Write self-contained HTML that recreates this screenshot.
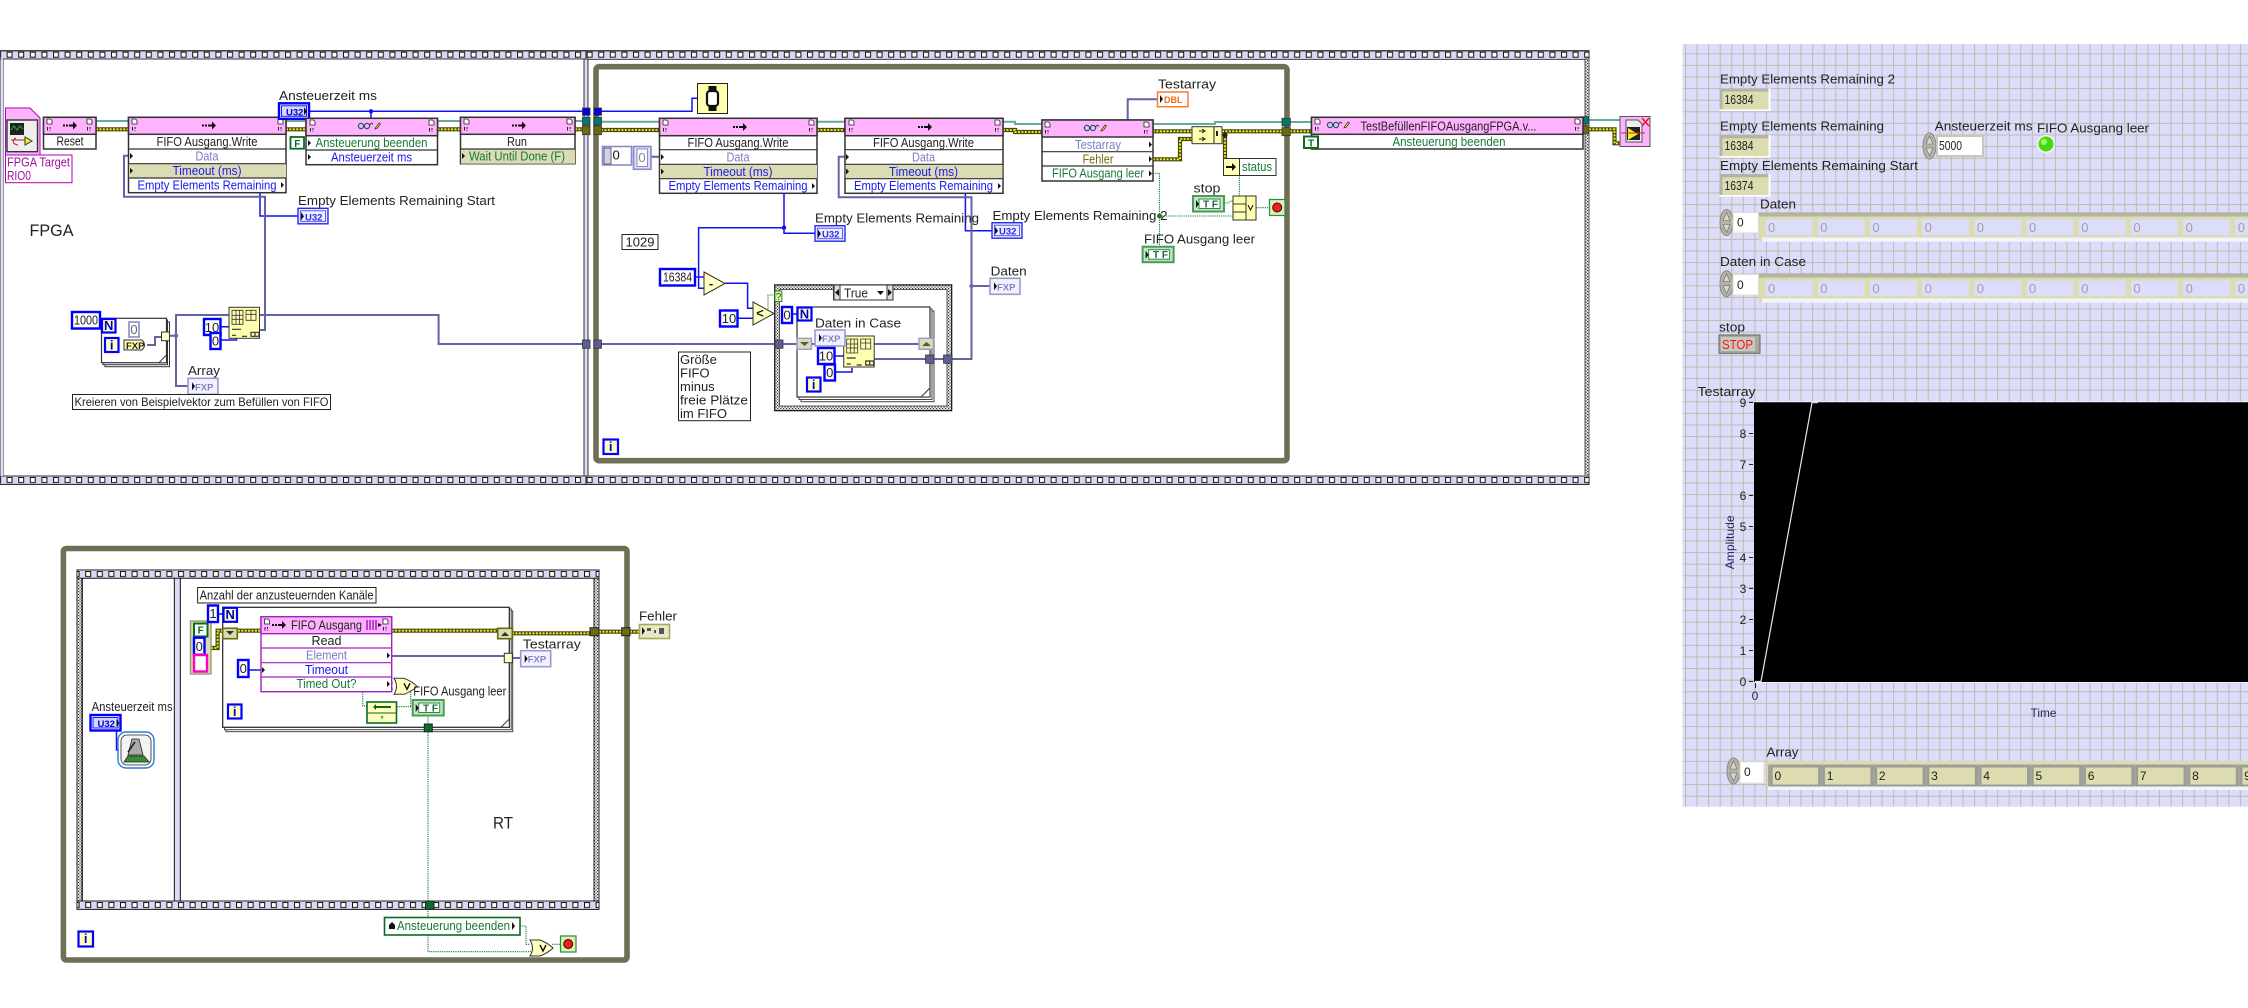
<!DOCTYPE html>
<html><head><meta charset="utf-8"><style>
html,body{margin:0;padding:0;background:#fff}
svg{position:absolute;left:0;top:0;display:block}
text{font-family:"Liberation Sans",sans-serif;font-size:13px;fill:#222}
.c{text-anchor:middle}
.bl{fill:#1a1af0}.pu{fill:#7c7cc0}.gr{fill:#157a35}.ol{fill:#7a6a10}
.k{fill:#fff;stroke:#00f;stroke-width:2.4}
.n{fill:#fff;stroke:#333;stroke-width:1.5}
.h{fill:#ffb3ff;stroke:#333;stroke-width:1.5}
.t{fill:#ffffc0;stroke:#00f;stroke-width:2.2}
.l{stroke:#333;stroke-width:1.2;fill:none}
.ti{fill:#6a6a9c;stroke:#333;stroke-width:.8}
</style></head><body>
<svg width="2248" height="1008" viewBox="0 0 2248 1008" xmlns="http://www.w3.org/2000/svg">
<defs>
<pattern id="b1" x="6.6" y="50.7" width="11.6" height="8.3" patternUnits="userSpaceOnUse"><rect width="11.6" height="8.3" fill="#d8d8f4"/><rect x=".5" y="1.5" width="5" height="5" fill="#fff" stroke="#111"/></pattern>
<pattern id="b2" x="4" y="570" width="11.6" height="8.3" patternUnits="userSpaceOnUse"><rect width="11.6" height="8.3" fill="#d8d8f4"/><rect x=".5" y="1.5" width="5" height="5" fill="#fff" stroke="#111"/></pattern>
<pattern id="b3" x="4" y="901" width="11.6" height="8.3" patternUnits="userSpaceOnUse"><rect width="11.6" height="8.3" fill="#d8d8f4"/><rect x=".5" y="1.5" width="5" height="5" fill="#fff" stroke="#111"/></pattern>
<pattern id="b4" x="6.6" y="476" width="11.6" height="8.3" patternUnits="userSpaceOnUse"><rect width="11.6" height="8.3" fill="#d8d8f4"/><rect x=".5" y="1.5" width="5" height="5" fill="#fff" stroke="#111"/></pattern>
<pattern id="ck" width="3" height="3" patternUnits="userSpaceOnUse"><rect width="3" height="3" fill="#f4f4f4"/><rect width="1.2" height="1.2" fill="#333"/><rect x="1.5" y="1.5" width="1.2" height="1.2" fill="#333"/></pattern>
<pattern id="grid" x="1685" y="41.7" width="11.56" height="11.6" patternUnits="userSpaceOnUse"><rect width="11.56" height="11.6" fill="#dcdcfb"/><path d="M0 .5H11.56M.5 0V11.6" stroke="#bcbcac" stroke-width="1"/></pattern>
<g id="d"><path d="M0 0h3.5l1.500 1.500V5H0z" fill="#fff" stroke="#222" stroke-width=".8"/><path d="M.5 8v3.500M3 8v2M3 11v.8" stroke="#222" stroke-width="1" fill="none"/></g>
<g id="ar"><path d="M0 -1h2v2H0zM3 -1h2v2H3zM6 -1h4v-3l4 4-4 4v-3H6z" fill="#111"/></g>
<g id="gl"><circle cx="3" cy="1" r="2.600" fill="none" stroke="#106060" stroke-width="1.200"/><circle cx="9" cy="1" r="2.600" fill="none" stroke="#106060" stroke-width="1.200"/><path d="M5.500 1h1M11.500 0l2-2 1.500 1.500" stroke="#222" fill="none" stroke-width=".8"/><path d="M17 4l1-2 3-4 1.500 1-3 4z" fill="#ffe040" stroke="#222" stroke-width=".7"/></g>
<path id="m" d="M0 -3L3 0L0 3z" fill="#111"/>
<g id="sub"><rect width="30.500" height="31" fill="#ffffb0" stroke="#333"/><path d="M3 3h11v14H3zM3 8h11M3 12h11M7 3v14M10.500 3v14M17 3h10v10H17zM17 7h10M22 3v10" stroke="#333" fill="none" stroke-width=".8"/><path d="M3 22h9M3 28h4M13 29h5M22 25h8v4h-8zM26 25v4" stroke="#333" fill="none" stroke-width="1.200"/></g>
<g id="fi"><rect width="30" height="15.500" fill="#fff" stroke="#00f" stroke-width="2.400"/><rect x="2.500" y="2.500" width="25" height="10.500" fill="#d6d6ff" stroke="#1a1af0" stroke-width="1"/></g>
<g id="fo"><rect width="30" height="15.500" fill="#e8e8ff" stroke="#2a2af0" stroke-width="1.400"/><rect x="2.500" y="2.500" width="25" height="10.500" fill="#eeeeff" stroke="#3a3af0" stroke-width=".8"/><path d="M3 4v8l3-4z" fill="#111"/></g>
<g id="ff"><rect width="30" height="16" fill="#f2f2ff" stroke="#9a9ad0" stroke-width="1.600"/><path d="M4 4v8l3-4z" fill="#111"/></g>
<g id="fg"><rect width="31" height="15.500" fill="#c4e6c4" stroke="#4a9a5a" stroke-width="2"/><rect x="6" y="3" width="21" height="9.500" fill="#fff" stroke="#2a8a4a"/><path d="M3 4v8l3-4z" fill="#111"/></g>
<g id="tri"><path d="M0 0L21 11.500L0 23z" fill="#ffffc0" stroke="#333"/></g>
<g id="orr"><path d="M0 0H10Q18 3 23 8Q18 13 10 16H0Q5 8 0 0z" fill="#ffffc0" stroke="#333"/><path d="M10 5l3 6 3-6" stroke="#111" fill="none" stroke-width="1.400"/></g>
<g id="stp"><rect width="15.500" height="16" fill="#dcf0b0" stroke="#2a8a4a" stroke-width="1.200"/><circle cx="7.700" cy="8" r="4.500" fill="#e82020" stroke="#400" stroke-width="1"/></g>
<g id="spin"><ellipse cx="6.500" cy="13" rx="6.500" ry="13" fill="#b4b4a6" stroke="#888"/><path d="M3 11l3.500-8 3.500 8zM3 15l3.500 8 3.500-8z" fill="#d8d8d0" stroke="#666" stroke-width=".6"/></g>
<g id="ind"><rect width="51" height="22.700" fill="#fff"/><rect width="49" height="21" fill="#b4b4a6"/><rect x="3" y="3.300" width="46" height="17.700" fill="#dcdcb0"/></g>
<g id="el0"><rect width="51" height="21" fill="#dcdcb0"/><rect x="3.500" y="3" width="47" height="15.500" fill="#dcdcfb"/></g>
<g id="el1"><rect width="50" height="21" fill="#9c9c96"/><rect x="2" y="2" width="45.500" height="17" fill="#dcdcb0"/></g>
</defs>

<!-- STRUCTURES -->
<rect x="0" y="50.700" width="1589" height="433.600" fill="#fff" stroke="#222" stroke-width="1"/>
<rect x="0" y="51" width="586" height="8.300" fill="url(#b1)" stroke="#111" stroke-width=".8"/>
<rect x="0" y="476" width="586" height="8.300" fill="url(#b4)" stroke="#111" stroke-width=".8"/>
<rect x="586" y="51" width="1003" height="8.300" fill="url(#b1)" stroke="#111" stroke-width=".8"/>
<rect x="586" y="476" width="1003" height="8.300" fill="url(#b4)" stroke="#111" stroke-width=".8"/>
<rect x="3" y="59" width="581" height="417" fill="#fff" stroke="#333"/>
<rect x="584" y="59" width="4" height="417" fill="#dcdcf8" stroke="#333"/>
<rect x="1585" y="59" width="4" height="417" fill="url(#ck)" stroke="#555"/>
<rect x="1" y="59" width="2" height="417" fill="#dcdcf8"/>
<rect x="596" y="66.700" width="691" height="394" fill="#fff" stroke="#6f6f56" stroke-width="5.600" rx="3"/>
<!-- for loop 1 -->
<rect x="105" y="322" width="64.500" height="44.700" fill="#fff" stroke="#333"/><rect x="103" y="320" width="64.500" height="44.700" fill="#fff" stroke="#333"/>
<rect x="101.500" y="318.300" width="65" height="44.400" fill="#fff" stroke="#333" stroke-width="1.200"/><path d="M159 362.700L166.500 355V362.700z" fill="#fff" stroke="#333"/>
<!-- case -->
<rect x="774.700" y="284.900" width="177" height="125.800" fill="url(#ck)" stroke="#111" stroke-width="1.200"/>
<rect x="779.500" y="289.500" width="167.500" height="116.500" fill="#fff" stroke="#333" stroke-width=".8"/>
<rect x="801" y="311" width="133" height="90.700" fill="#fff" stroke="#444"/><rect x="799" y="309" width="133" height="90.500" fill="#fff" stroke="#444"/>
<rect x="797" y="307" width="133" height="90" fill="#fff" stroke="#333" stroke-width="1.200"/><path d="M921 397L930 388V397z" fill="#fff" stroke="#333"/>
<!-- RT structures -->
<rect x="63.400" y="548.500" width="563.600" height="411.500" fill="#fff" stroke="#6f6f56" stroke-width="5.600" rx="3"/>
<rect x="77" y="570" width="522" height="339.300" fill="#fff" stroke="#222" stroke-width="1"/>
<rect x="77" y="570" width="522" height="8.300" fill="url(#b2)" stroke="#111" stroke-width=".8"/>
<rect x="77" y="901" width="522" height="8.300" fill="url(#b3)" stroke="#111" stroke-width=".8"/>
<rect x="77" y="578.300" width="5" height="322.700" fill="url(#ck)" stroke="#222"/>
<rect x="82.400" y="578.300" width="92" height="322.700" fill="#fff" stroke="#222"/>
<rect x="174.400" y="578.300" width="6" height="322.700" fill="#dcdcf8" stroke="#222"/>
<rect x="180.400" y="578.300" width="413.600" height="322.700" fill="#fff" stroke="#222"/>
<rect x="594" y="578.300" width="5" height="322.700" fill="url(#ck)" stroke="#222"/>
<rect x="226" y="611" width="286.700" height="120.700" fill="#fff" stroke="#444"/><rect x="224.500" y="609" width="286.700" height="120.700" fill="#fff" stroke="#444"/>
<rect x="222.700" y="607.300" width="286.600" height="120" fill="#fff" stroke="#222" stroke-width="1.200"/><path d="M501 727.300L509.300 719V727.300z" fill="#fff" stroke="#333"/>

<!-- WIRES -->
<g fill="none" stroke="#66aa9a" stroke-width="2"><path d="M96 121H128.500M286 121H306M437.500 121H460M575 121H582M601 121.700H659M817 121.700H845M1003 121.700H1015V124H1042M1153 124H1215V122H1282M1290 122H1311M1589 120H1620"/></g>
<defs><path id="ew" d="M96 129.300H128.500M286 129.300H306M437.500 129.300H460M575 129.300H582M601 130H659M817 130H845M1003 130H1015V132H1042M1153 131.300H1192M1153 159.300H1180V139H1192M1222 131.300H1282M1290 131.300H1311M1225 135V158M1589 129.300H1614.500V143.300H1619.500M211 648H217.600V630.700H261M391.700 630.700H498M512 633.300H590M599 631.700H622M630 631.700H639"/></defs>
<use href="#ew" fill="none" stroke="#4a4a08" stroke-width="4.200"/>
<use href="#ew" fill="none" stroke="#f4f430" stroke-width="1.800" stroke-dasharray="2 1.400"/>
<g fill="none" stroke="#1212f0" stroke-width="1.500"><path d="M308 111.300H582M371 111.300V118M601 111.300H692V98.300H697M260 192.700V216H298M784 193.300V233.300H815M784 227.700H698.600V288.300H704M695 277H704M725 283.300H747.600V308.300H753.400M737.700 318.300H753M965.400 193.300V230.700H992M221 326.700H229M221 340H236.500V338M791.600 314H796.600M834.500 356H844M835 372H852V368M249 670H261M217 614H223M116.500 730V750H118M100 322H101"/></g>
<g fill="none" stroke="#6464a4" stroke-width="2"><path d="M128.500 155.700H124V196.700H265V330H259.500M147 345H155V337H161.500M169.500 335.700H176M229.600 315H176V386H187.500M259.500 315H438.600V344H582.500M601 344H774M783 344H797M811.500 344H843.700M874 344H919M874 359H925.600M934 359H943.600M952 359H971.500V197.300H838.700V156.700H845M971.500 286H990M651 156.700H659M1127.700 120V99.300H1157M391.700 656H504.300M512 658H520.700"/></g>
<g fill="none" stroke="#1a7a2a" stroke-width="1.100" stroke-dasharray="1.200 1"><path d="M1153 173.300H1159.500V246.700M1159.500 216H1233M1239.400 175.300V195.700M1223 203H1228L1231 201H1233M1256 207.700H1269M772.500 313.300H768V295H774.400M391.700 683H394M391.700 689H394M416 686H410.700V706.700M396.700 706.700H412.700M362.700 691.700V706H366.700M428 715V951.700H531M520 926H526V944.300H530M552 944.300H560.600"/></g>
<circle cx="371" cy="111.300" r="2.200" fill="#1212f0"/><circle cx="784" cy="227.700" r="2.200" fill="#1212f0"/><circle cx="176" cy="335.700" r="2.200" fill="#6a6aa8"/><circle cx="971.500" cy="286" r="2.200" fill="#6a6aa8"/><circle cx="1159.500" cy="216" r="2.500" fill="#1a7a2a"/><circle cx="1225" cy="135" r="2.500" fill="#222"/>

<!-- TUNNELS -->
<g stroke="#333" stroke-width=".8">
<rect x="582.500" y="108" width="7.500" height="7.300" fill="#0000e0"/><rect x="594" y="108" width="7.500" height="7.300" fill="#0000e0"/>
<rect x="582.500" y="117.300" width="7.500" height="7.700" fill="#08786a"/><rect x="594" y="117.300" width="7.500" height="7.700" fill="#08786a"/>
<rect x="582.500" y="126" width="7.500" height="8.700" fill="#6a6a10"/><rect x="594" y="126" width="7.500" height="8.700" fill="#6a6a10"/>
<rect x="582.500" y="340" width="7.500" height="8.300" fill="#5e5e94"/><rect x="594" y="340" width="7.500" height="8.300" fill="#5e5e94"/>
<rect x="1282" y="118.300" width="8.300" height="7.700" fill="#08786a"/><rect x="1282" y="127.700" width="8.300" height="8" fill="#6a6a10"/>
<rect x="1581" y="116.700" width="8" height="7.300" fill="#08786a"/><rect x="1581" y="125.700" width="8" height="8.300" fill="#6a6a10"/>
<rect x="775" y="340" width="8" height="8.300" fill="#5e5e94"/>
<rect x="925.600" y="355" width="8.400" height="8.300" fill="#5e5e94"/><rect x="943.600" y="355" width="8.400" height="8.300" fill="#5e5e94"/>
</g>

<!-- FPGA ref -->
<path d="M5.500 108H30L40 118V155H5.500z" fill="#ffb3ff" stroke="#b000b0"/>
<rect x="7" y="120" width="30.500" height="31.700" fill="#eee" stroke="#333" stroke-width="1.400"/>
<rect x="10" y="123" width="14" height="12" fill="#222"/><path d="M11 130l3-4 3 4 3-4 3 3" stroke="#20c020" fill="none"/><path d="M25 137l7 4-7 4z" fill="#f0f020" stroke="#333"/><path d="M11 140h14M16 138c-4 2-4 6 2 7" stroke="#c02020" fill="none"/>
<rect x="5.500" y="155" width="66.500" height="27.700" fill="#fff" stroke="#b000b0"/>
<text x="7" y="166.500" style="fill:#a010a0" textLength="63" lengthAdjust="spacingAndGlyphs">FPGA Target</text><text x="7" y="180" style="fill:#a010a0" textLength="24" lengthAdjust="spacingAndGlyphs">RIO0</text>

<!-- Reset -->
<rect class="n" x="43.500" y="117.300" width="52.500" height="31.700"/><rect class="h" x="43.500" y="117.300" width="52.500" height="17"/>
<use href="#d" x="47" y="119"/><use href="#d" x="87" y="119"/><use href="#ar" x="63" y="125.500"/>
<text class="c" x="70" y="145.500" textLength="27" lengthAdjust="spacingAndGlyphs">Reset</text>

<!-- FIFO 1 -->
<rect class="n" x="128.500" y="117.300" width="157.500" height="75.400"/><rect x="129" y="163.700" width="157" height="14.300" fill="#dcdcb4"/>
<rect class="h" x="128.500" y="117.300" width="157.500" height="17"/><path class="l" d="M128.500 149H286M128.500 163.700H286M128.500 178H286"/>
<use href="#d" x="132" y="119"/><use href="#d" x="278" y="119"/><use href="#ar" x="202" y="125.500"/>
<text class="c" x="207" y="146" textLength="101" lengthAdjust="spacingAndGlyphs">FIFO Ausgang.Write</text><text class="c pu" x="207" y="160.500" textLength="23" lengthAdjust="spacingAndGlyphs">Data</text><text class="c bl" x="207" y="175" textLength="69" lengthAdjust="spacingAndGlyphs">Timeout (ms)</text><text class="c bl" x="207" y="189.500" textLength="139" lengthAdjust="spacingAndGlyphs">Empty Elements Remaining</text>
<use href="#m" x="130" y="156"/><use href="#m" x="130" y="170.700"/><use href="#m" x="281" y="185"/>

<!-- U32 top -->
<text x="279" y="100" textLength="98" lengthAdjust="spacingAndGlyphs">Ansteuerzeit ms</text>
<g transform="translate(279 103.300)"><use href="#fi"/><text x="7" y="12" style="font-size:9.500px;font-weight:bold;fill:#00c">U32</text><path d="M25 4v8l3-4z" fill="#111"/></g>

<!-- Node 2 -->
<rect class="n" x="306" y="118.300" width="131.500" height="46.400"/><rect class="h" x="306" y="118.300" width="131.500" height="17.400"/><path class="l" d="M306 150H437.500"/>
<use href="#d" x="310" y="120"/><use href="#d" x="429" y="120"/><use href="#gl" x="358" y="125"/>
<text class="c gr" x="371.500" y="147" textLength="112" lengthAdjust="spacingAndGlyphs">Ansteuerung beenden</text><text class="c bl" x="371.500" y="161.500" textLength="81" lengthAdjust="spacingAndGlyphs">Ansteuerzeit ms</text>
<use href="#m" x="308" y="143"/><use href="#m" x="308" y="157"/>
<rect x="290.500" y="137" width="13.500" height="11.700" fill="#fff" stroke="#0a6a20" stroke-width="1.800"/><text class="c" x="297.300" y="147" style="font-size:10px;font-weight:bold;fill:#0a6a20">F</text>

<!-- Run -->
<rect class="n" x="460.500" y="117.300" width="114.500" height="46.400"/><rect x="461" y="149" width="114" height="14.700" fill="#dcdcb4"/><rect class="h" x="460.500" y="117.300" width="114.500" height="17"/><path class="l" d="M460.500 149H575"/>
<use href="#d" x="464" y="119"/><use href="#d" x="567" y="119"/><use href="#ar" x="512" y="125.500"/>
<text class="c" x="517" y="146" textLength="20" lengthAdjust="spacingAndGlyphs">Run</text><text class="c gr" x="517" y="160.500" textLength="96" lengthAdjust="spacingAndGlyphs">Wait Until Done (F)</text><use href="#m" x="462" y="156"/>

<!-- Empty start indicator -->
<text x="298" y="205" textLength="197" lengthAdjust="spacingAndGlyphs">Empty Elements Remaining Start</text>
<g transform="translate(298 208.300)"><use href="#fo"/><text x="7" y="12" style="font-size:9.500px;font-weight:bold;fill:#2a2af0">U32</text></g>
<text x="29.500" y="236" style="font-size:17px" textLength="44" lengthAdjust="spacingAndGlyphs">FPGA</text>

<!-- for loop 1 contents -->
<rect class="k" x="72" y="312" width="28" height="16.500"/><text class="c" x="86" y="324.500" style="font-size:12.500px" textLength="24" lengthAdjust="spacingAndGlyphs">1000</text>
<rect class="t" x="102" y="319" width="13.500" height="13.500"/><text class="c" x="108.700" y="330" style="font-weight:bold;fill:#00c">N</text>
<rect x="129" y="322" width="10" height="15" fill="#fff" stroke="#8a8ac8" stroke-width="1.600"/><text class="c" x="134" y="334" style="fill:#666">0</text>
<rect class="t" x="105" y="338" width="13.500" height="14"/><text class="c" x="111.700" y="349.500" style="font-weight:bold;fill:#00c">i</text>
<path d="M124 340H142Q147 345 142 350H124z" fill="#ffffb0" stroke="#333"/><text x="126" y="349" style="font-size:9.500px;font-weight:bold">FXP</text>
<rect x="161.500" y="332" width="8" height="8.700" fill="#ffffc8" stroke="#333"/>

<use href="#sub" x="229" y="307.300"/>
<rect class="k" x="204" y="319" width="16.500" height="16"/><text class="c" x="212" y="332">10</text>
<rect class="k" x="210.500" y="333" width="10" height="16"/><text class="c" x="215.500" y="345.500">0</text>
<text x="188" y="375" textLength="32" lengthAdjust="spacingAndGlyphs">Array</text>
<g transform="translate(188 378.300)"><use href="#ff"/><text x="7" y="12" style="font-size:9.500px;fill:#8484c0;font-weight:bold">FXP</text></g>
<rect x="72.500" y="394.500" width="258" height="15" fill="#fff" stroke="#222"/><text x="74.500" y="406" style="font-size:12px" textLength="254" lengthAdjust="spacingAndGlyphs">Kreieren von Beispielvektor zum Befüllen von FIFO</text>

<!-- Timer -->
<rect x="697.500" y="83.500" width="30" height="30" fill="#ffffb0" stroke="#222"/><rect x="707" y="91" width="11" height="15" rx="3" fill="#fff" stroke="#111" stroke-width="2.200"/><rect x="708.500" y="86" width="8" height="5" fill="#111"/><rect x="708.500" y="106" width="8" height="5" fill="#111"/>

<!-- const cluster -->
<rect x="602.500" y="146.500" width="29" height="18.500" fill="#fff" stroke="#8a8ac8" stroke-width="1.600"/><rect x="604" y="148" width="7" height="16" fill="#d0d0f0" stroke="#666"/><text x="612.500" y="159.500" style="fill:#111">0</text>
<rect x="633.500" y="146.500" width="17.500" height="22.800" fill="#dcdcf8" stroke="#8a8ac8" stroke-width="1.600"/><rect x="637" y="149" width="10.500" height="17.500" fill="#fff" stroke="#8a8ac8"/><text class="c" x="642" y="162" style="fill:#888">0</text>

<!-- FIFO 2 -->
<rect class="n" x="659.500" y="118.300" width="157.500" height="75"/><rect x="660" y="164.300" width="157" height="14.400" fill="#dcdcb4"/><rect class="h" x="659.500" y="118.300" width="157.500" height="17.400"/><path class="l" d="M659.500 149.700H817M659.500 164.300H817M659.500 178.700H817"/>
<use href="#d" x="663" y="120"/><use href="#d" x="809" y="120"/><use href="#ar" x="733" y="127"/>
<text class="c" x="738" y="147" textLength="101" lengthAdjust="spacingAndGlyphs">FIFO Ausgang.Write</text><text class="c pu" x="738" y="161.500" textLength="23" lengthAdjust="spacingAndGlyphs">Data</text><text class="c bl" x="738" y="176" textLength="69" lengthAdjust="spacingAndGlyphs">Timeout (ms)</text><text class="c bl" x="738" y="190" textLength="139" lengthAdjust="spacingAndGlyphs">Empty Elements Remaining</text>
<use href="#m" x="661" y="157"/><use href="#m" x="661" y="171.500"/><use href="#m" x="812" y="186"/>

<!-- FIFO 3 -->
<rect class="n" x="845" y="118.300" width="158" height="75"/><rect x="845.500" y="164.300" width="157" height="14.400" fill="#dcdcb4"/><rect class="h" x="845" y="118.300" width="158" height="17.400"/><path class="l" d="M845 149.700H1003M845 164.300H1003M845 178.700H1003"/>
<use href="#d" x="849" y="120"/><use href="#d" x="995" y="120"/><use href="#ar" x="918" y="127"/>
<text class="c" x="923.500" y="147" textLength="101" lengthAdjust="spacingAndGlyphs">FIFO Ausgang.Write</text><text class="c pu" x="923.500" y="161.500" textLength="23" lengthAdjust="spacingAndGlyphs">Data</text><text class="c bl" x="923.500" y="176" textLength="69" lengthAdjust="spacingAndGlyphs">Timeout (ms)</text><text class="c bl" x="923.500" y="190" textLength="139" lengthAdjust="spacingAndGlyphs">Empty Elements Remaining</text>
<use href="#m" x="846" y="157"/><use href="#m" x="846" y="171.500"/><use href="#m" x="998" y="186"/>

<!-- Read node -->
<rect class="n" x="1042" y="120" width="111" height="61"/><rect class="h" x="1042" y="120" width="111" height="17"/><path class="l" d="M1042 151.700H1153M1042 166H1153"/>
<use href="#d" x="1045" y="122"/><use href="#d" x="1144" y="122"/><use href="#gl" x="1084" y="127"/>
<text class="c pu" x="1098" y="149" textLength="46" lengthAdjust="spacingAndGlyphs">Testarray</text><text class="c ol" x="1098" y="163.500" textLength="31" lengthAdjust="spacingAndGlyphs">Fehler</text><text class="c gr" x="1098" y="177.500" textLength="92" lengthAdjust="spacingAndGlyphs">FIFO Ausgang leer</text>
<use href="#m" x="1149" y="144.500"/><use href="#m" x="1149" y="159"/><use href="#m" x="1149" y="173.500"/>

<!-- Labels middle -->
<rect x="622" y="234.500" width="36" height="15" fill="#fff" stroke="#222"/><text class="c" x="640" y="246.500" textLength="29" lengthAdjust="spacingAndGlyphs">1029</text>
<rect class="k" x="660" y="269" width="35" height="16.500"/><text class="c" x="677.500" y="281.500" textLength="29" lengthAdjust="spacingAndGlyphs">16384</text>
<use href="#tri" x="704" y="272"/><text class="c" x="711" y="288" style="font-weight:bold">-</text><path d="M704 277l-1-3h2z" fill="#f00"/>
<use href="#tri" x="753" y="302"/><text class="c" x="760" y="317.500" style="font-weight:bold">&lt;</text>
<rect class="k" x="720" y="310.500" width="17.500" height="16"/><text class="c" x="729" y="323">10</text>

<text x="815" y="222.700" textLength="164" lengthAdjust="spacingAndGlyphs">Empty Elements Remaining</text>
<g transform="translate(815 225.700)"><use href="#fo"/><text x="7" y="12" style="font-size:9.500px;font-weight:bold;fill:#2a2af0">U32</text></g>
<text x="992.500" y="220" textLength="175" lengthAdjust="spacingAndGlyphs">Empty Elements Remaining 2</text>
<g transform="translate(992 222.700)"><use href="#fo"/><text x="7" y="12" style="font-size:9.500px;font-weight:bold;fill:#2a2af0">U32</text></g>
<text x="990.600" y="275.300" textLength="36" lengthAdjust="spacingAndGlyphs">Daten</text>
<g transform="translate(990 278.300)"><use href="#ff"/><text x="7" y="12" style="font-size:9.500px;fill:#8484c0;font-weight:bold">FXP</text></g>

<rect x="678.500" y="352" width="72" height="68.700" fill="#fff" stroke="#222"/>
<g><text x="680" y="364">Größe</text><text x="680" y="377.500">FIFO</text><text x="680" y="391">minus</text><text x="680" y="404.500" textLength="68" lengthAdjust="spacingAndGlyphs">freie Plätze</text><text x="680" y="418">im FIFO</text></g>

<!-- Case contents -->
<rect x="833.500" y="285" width="59.500" height="15" fill="#fff" stroke="#333"/><path d="M834 285h6v15h-6zM887 285h6v15h-6z" fill="#ddd" stroke="#333"/><path d="M839 289v7l-4-3.500zM888 289v7l4-3.500z" fill="#111"/>
<text x="844" y="297.500" textLength="24" lengthAdjust="spacingAndGlyphs">True</text><path d="M877 291h7l-3.500 4z" fill="#111"/>
<rect x="774.900" y="291" width="7" height="10.500" fill="#dff0a8" stroke="#2a8a2a"/><text class="c" x="778.500" y="300" style="font-size:10px;fill:#2a6a2a">?</text>
<rect class="k" x="782" y="307" width="10" height="16"/><text class="c" x="787" y="319.500">0</text>
<rect class="t" x="797.500" y="307.500" width="14" height="13"/><text class="c" x="804.500" y="318.500" style="font-weight:bold;fill:#00c">N</text>
<text x="815" y="327.300" textLength="86" lengthAdjust="spacingAndGlyphs">Daten in Case</text>
<rect x="797" y="338.300" width="14.500" height="11" fill="#dcdcb0" stroke="#9a9ad0" stroke-width="1.400"/><path d="M800 342h9l-4.500 4z" fill="#555"/>
<rect x="919" y="338.300" width="14.500" height="11" fill="#dcdcb0" stroke="#9a9ad0" stroke-width="1.400"/><path d="M922 346h9l-4.500-4z" fill="#555"/>
<use href="#sub" x="843.700" y="336"/>
<g transform="translate(815 330)"><use href="#ff"/><text x="7" y="12" style="font-size:9.500px;fill:#8484c0;font-weight:bold">FXP</text></g>
<rect class="k" x="818" y="348" width="16.500" height="16"/><text class="c" x="826" y="360.500">10</text>
<rect class="k" x="824.500" y="364.500" width="10.500" height="16"/><text class="c" x="829.700" y="377">0</text>
<rect class="t" x="807" y="377.500" width="13.500" height="14"/><text class="c" x="813.700" y="389" style="font-weight:bold;fill:#00c">i</text>
<rect class="t" x="603.500" y="439.500" width="14.500" height="14.500"/><text class="c" x="610.700" y="451" style="font-weight:bold;fill:#00c">i</text>

<!-- Testarray -->
<text x="1158" y="88.700" textLength="58" lengthAdjust="spacingAndGlyphs">Testarray</text>
<rect x="1157.500" y="92" width="30.500" height="14.700" fill="#fff" stroke="#ff7a20" stroke-width="1.500"/><path d="M1160 95v8l3-4z" fill="#111"/><text x="1164" y="103" style="font-size:9px;font-weight:bold;fill:#f06a10">DBL</text>

<!-- Merge -->
<rect x="1192" y="126.700" width="30" height="17" fill="#ffffb0" stroke="#333"/><path d="M1214 127v16M1199 131h6M1202 129l3 2-3 2M1199 139h6M1202 137l3 2-3 2" stroke="#222" fill="none"/><path d="M1217 131v5" stroke="#222" stroke-width="2"/>
<rect x="1223.500" y="158.500" width="52.500" height="17" fill="#fff" stroke="#333"/><rect x="1223.500" y="158.500" width="16" height="17" fill="#ffffb0" stroke="#333"/><path d="M1226 166h6v-3l4 4-4 4v-3h-6z" fill="#111"/><text x="1242" y="171" class="gr" textLength="30" lengthAdjust="spacingAndGlyphs">status</text>
<text x="1193.500" y="192.700" textLength="27" lengthAdjust="spacingAndGlyphs">stop</text>
<use href="#fg" x="1193" y="196"/><text x="1203" y="207.500" style="font-size:10px;font-weight:bold;fill:#1a6a3a">T F</text>
<rect x="1233" y="196" width="23" height="24" fill="#ffffb0" stroke="#333"/><path d="M1233 204h13M1233 212h13M1246 196v24" stroke="#333"/><path d="M1248 205l2.500 5 2.500-5" stroke="#111" fill="none"/>
<use href="#stp" x="1269.500" y="199.500"/>
<text x="1144" y="243.300" textLength="111" lengthAdjust="spacingAndGlyphs">FIFO Ausgang leer</text>
<use href="#fg" x="1142.600" y="246.700"/><text x="1153" y="258" style="font-size:10px;font-weight:bold;fill:#1a6a3a">T F</text>

<!-- Final node -->
<rect class="n" x="1311.500" y="117.300" width="271.500" height="31.700"/><rect class="h" x="1311.500" y="117.300" width="271.500" height="17"/>
<use href="#d" x="1315" y="119"/><use href="#d" x="1575" y="119"/><use href="#gl" x="1327" y="124"/>
<text x="1360.500" y="130.500" textLength="176" lengthAdjust="spacingAndGlyphs">TestBefüllenFIFOAusgangFPGA.v...</text>
<text class="c gr" x="1449" y="146" textLength="113" lengthAdjust="spacingAndGlyphs">Ansteuerung beenden</text>
<rect x="1304" y="136.500" width="14" height="11.500" fill="#fff" stroke="#0a6a20" stroke-width="2"/><text class="c" x="1311" y="146.500" style="font-size:10px;font-weight:bold;fill:#0a6a20">T</text>

<!-- Close -->
<rect x="1620" y="116.500" width="30" height="30" fill="#ffb3ff" stroke="#555"/><path d="M1626 120h12l4 4v18h-16z" fill="#eee" stroke="#555"/><rect x="1627" y="127" width="13" height="13" fill="#222"/><path d="M1628 128l10 6-10 6z" fill="#f0f020"/><path d="M1621 133h24" stroke="#e02020"/><path d="M1642 118l7 8m0-8l-7 8" stroke="#e02020" stroke-width="1.500"/>

<!-- RT contents -->
<text x="91.600" y="711" textLength="81" lengthAdjust="spacingAndGlyphs">Ansteuerzeit ms</text>
<g transform="translate(90.500 715)"><use href="#fi"/><text x="7" y="12" style="font-size:9.500px;font-weight:bold;fill:#00c">U32</text><path d="M26 4v8l3-4z" fill="#111"/></g>
<rect x="118" y="732" width="36" height="36" rx="8" fill="#fff" stroke="#2a7ad8" stroke-width="1.400"/><rect x="121" y="735" width="30" height="30" rx="6" fill="#f4f4f4" stroke="#222" stroke-width=".8"/><path d="M132 739h7l4 16h-15z" fill="#aaa" stroke="#222" stroke-width=".8"/><path d="M124 762l4-6h16l5 6z" fill="#3a8a3a" stroke="#222" stroke-width=".8"/><path d="M135 742l-7 10" stroke="#111" stroke-width="1.500"/>

<rect x="197.600" y="587.500" width="178.400" height="15.500" fill="#fff" stroke="#222"/><text x="199.600" y="599.500" textLength="174" lengthAdjust="spacingAndGlyphs">Anzahl der anzusteuernden Kanäle</text>

<rect x="190.500" y="621" width="20.500" height="53" fill="#dcdcb0" stroke="#9a9a70" stroke-width="1.400"/>
<rect x="194" y="623.500" width="13.500" height="13" fill="#fff" stroke="#0a6a20" stroke-width="2"/><text class="c" x="200.700" y="633.500" style="font-size:10px;font-weight:bold;fill:#0a6a20">F</text>
<rect class="k" x="194" y="637.700" width="10.500" height="17"/><text class="c" x="199.200" y="651">0</text>
<rect x="194" y="655" width="13" height="16.500" fill="#fff" stroke="#ff00c0" stroke-width="2.400"/>
<rect x="208" y="605.500" width="10" height="16.500" class="k"/><text class="c" x="213" y="618">1</text>
<rect class="t" x="223.500" y="607.800" width="13.500" height="14"/><text class="c" x="230.200" y="619" style="font-weight:bold;fill:#00c">N</text>
<rect x="222.700" y="628.300" width="14.600" height="10.400" fill="#dcdcb0" stroke="#6a6a10" stroke-width="1.600"/><path d="M226 631h8l-4 4z" fill="#333"/>
<rect x="497.700" y="628.300" width="14.600" height="10.400" fill="#dcdcb0" stroke="#6a6a10" stroke-width="1.600"/><path d="M501 636h8l-4-4z" fill="#333"/>

<rect x="261" y="616.700" width="130.700" height="75" fill="#fff" stroke="#a020c0" stroke-width="1.400"/><rect x="261" y="616.700" width="130.700" height="17" fill="#ffb3ff" stroke="#a020c0" stroke-width="1.400"/><path d="M261 648H391.700M261 662.700H391.700M261 677H391.700" stroke="#a020c0" stroke-width="1.200" fill="none"/>
<use href="#d" x="264.500" y="619"/><use href="#d" x="383" y="619"/><use href="#ar" x="272" y="625"/>
<text x="291" y="629.500" textLength="71" lengthAdjust="spacingAndGlyphs">FIFO Ausgang</text><path d="M367 620v10M370 620v10M373 620v10M376 620v10" stroke="#a020c0" stroke-width="1.500"/><path d="M378 623l4 2-4 2z" fill="#111"/>
<text class="c" x="326.500" y="645" textLength="30" lengthAdjust="spacingAndGlyphs">Read</text><text class="c pu" x="326.500" y="659.500" textLength="41" lengthAdjust="spacingAndGlyphs">Element</text><text class="c bl" x="326.500" y="674" textLength="43" lengthAdjust="spacingAndGlyphs">Timeout</text><text class="c gr" x="326.500" y="688" textLength="60" lengthAdjust="spacingAndGlyphs">Timed Out?</text>
<use href="#m" x="387" y="655.500"/><use href="#m" x="262" y="670"/><use href="#m" x="387" y="684"/>
<rect class="k" x="238" y="660" width="10.500" height="17"/><text class="c" x="243.300" y="673">0</text>
<use href="#orr" x="394" y="678.300"/>
<text x="413.300" y="695.300" textLength="93" lengthAdjust="spacingAndGlyphs">FIFO Ausgang leer</text>
<rect x="367" y="702" width="29.500" height="21" fill="#ffffc0" stroke="#0a6a20" stroke-width="1.600"/><path d="M367 713H396.500" stroke="#0a6a20"/><path d="M372 706h4v-2l-3 3 3 3v-2h15v-2z" fill="#0a6a20"/><text class="c" x="382" y="722" style="font-size:9px;fill:#0a6a20">*</text>
<use href="#fg" x="412.700" y="700"/><text x="423" y="711.500" style="font-size:10px;font-weight:bold;fill:#1a6a3a">T F</text>
<rect x="424.300" y="724" width="8" height="7.700" fill="#0a6a30" stroke="#222"/>
<rect class="t" x="228" y="704.500" width="13.500" height="14"/><text class="c" x="234.700" y="716" style="font-weight:bold;fill:#00c">i</text>
<rect x="504.300" y="653.300" width="8" height="9.400" fill="#ffffc8" stroke="#333"/>
<text x="522.800" y="648.300" textLength="58" lengthAdjust="spacingAndGlyphs">Testarray</text>
<g transform="translate(520.700 650.700)"><use href="#ff"/><text x="7" y="12" style="font-size:9.500px;fill:#8484c0;font-weight:bold">FXP</text></g>
<rect x="590" y="627.700" width="9" height="8" fill="#6a6a10" stroke="#222"/><rect x="621.700" y="627.700" width="8.300" height="8" fill="#6a6a10" stroke="#222"/>
<text x="639" y="620.700" textLength="38" lengthAdjust="spacingAndGlyphs">Fehler</text>
<rect x="639.500" y="624.500" width="30" height="14" fill="#e8e8c8" stroke="#a8a858" stroke-width="1.600"/><path d="M642 627v8l3-4z" fill="#111"/><path d="M647 628h4v3h-4zM654 630h2v3h-2zM659 628h5v6h-5z" fill="#555"/>
<rect x="425.500" y="901" width="8.500" height="8.300" fill="#0a6a30" stroke="#222"/>
<rect x="384.500" y="917.500" width="135.500" height="17.500" fill="#fff" stroke="#0a6a20" stroke-width="1.600"/><path d="M389 925l3-3 3 3v4h-6z" fill="#111"/><text x="397" y="930" class="gr" textLength="113" lengthAdjust="spacingAndGlyphs">Ansteuerung beenden</text><path d="M512 922v8l3-4z" fill="#111"/>
<use href="#orr" x="530" y="940"/>
<use href="#stp" x="560.500" y="936"/>
<text x="493" y="828.300" style="font-size:17px" textLength="20" lengthAdjust="spacingAndGlyphs">RT</text>
<rect class="t" x="78.500" y="931.500" width="14.500" height="15"/><text class="c" x="85.700" y="943" style="font-weight:bold;fill:#00c">i</text>

<!-- FRONT PANEL -->
<rect x="1682.600" y="44" width="566" height="762.700" fill="url(#grid)"/>
<text x="1720" y="83.300" textLength="175" lengthAdjust="spacingAndGlyphs">Empty Elements Remaining 2</text>
<use href="#ind" x="1719.500" y="88.300"/><text x="1724.500" y="104" textLength="29" lengthAdjust="spacingAndGlyphs">16384</text>
<text x="1720" y="130.700" textLength="164" lengthAdjust="spacingAndGlyphs">Empty Elements Remaining</text>
<use href="#ind" x="1719.500" y="135"/><text x="1724.500" y="150" textLength="29" lengthAdjust="spacingAndGlyphs">16384</text>
<text x="1720" y="170" textLength="198" lengthAdjust="spacingAndGlyphs">Empty Elements Remaining Start</text>
<use href="#ind" x="1719.500" y="174"/><text x="1724.500" y="190" textLength="29" lengthAdjust="spacingAndGlyphs">16374</text>
<text x="1934.600" y="130.700" textLength="98" lengthAdjust="spacingAndGlyphs">Ansteuerzeit ms</text>
<use href="#spin" x="1923" y="133"/><rect x="1936" y="135" width="48" height="22" fill="#c8c8b8"/><rect x="1938" y="137" width="44" height="18" fill="#fff"/><text x="1939" y="150" textLength="23" lengthAdjust="spacingAndGlyphs">5000</text>
<text x="2037" y="132.700" textLength="112" lengthAdjust="spacingAndGlyphs">FIFO Ausgang leer</text>
<circle cx="2046" cy="144" r="9" fill="#f4f4f4"/><circle cx="2046" cy="144" r="7.500" fill="#44d810"/><circle cx="2044" cy="142" r="3" fill="#a0ff60"/>

<text x="1760" y="208.300" textLength="36" lengthAdjust="spacingAndGlyphs">Daten</text>
<use href="#spin" x="1720" y="209.500"/><rect x="1733" y="212.500" width="25.500" height="20.500" fill="#fff" stroke="#dcdcc8"/><text x="1737" y="226.500" style="font-size:12px">0</text>
<rect x="1759" y="212.300" width="489" height="29.400" fill="#dcdcb0"/><rect x="1759" y="212.300" width="489" height="4.400" fill="#b4b4a6"/><rect x="1762" y="237.300" width="486" height="4.400" fill="#f4f4ff"/>
<g><use href="#el0" x="1762" y="216.500"/><use href="#el0" x="1814.200" y="216.500"/><use href="#el0" x="1866.400" y="216.500"/><use href="#el0" x="1918.600" y="216.500"/><use href="#el0" x="1970.800" y="216.500"/><use href="#el0" x="2023" y="216.500"/><use href="#el0" x="2075.200" y="216.500"/><use href="#el0" x="2127.400" y="216.500"/><use href="#el0" x="2179.600" y="216.500"/><use href="#el0" x="2231.800" y="216.500"/></g>
<g><text x="1768" y="232" style="fill:#a0a0a8">0</text><text x="1820.200" y="232" style="fill:#a0a0a8">0</text><text x="1872.400" y="232" style="fill:#a0a0a8">0</text><text x="1924.600" y="232" style="fill:#a0a0a8">0</text><text x="1976.800" y="232" style="fill:#a0a0a8">0</text><text x="2029" y="232" style="fill:#a0a0a8">0</text><text x="2081.200" y="232" style="fill:#a0a0a8">0</text><text x="2133.400" y="232" style="fill:#a0a0a8">0</text><text x="2185.600" y="232" style="fill:#a0a0a8">0</text><text x="2237.800" y="232" style="fill:#a0a0a8">0</text></g>

<text x="1720" y="266" textLength="86" lengthAdjust="spacingAndGlyphs">Daten in Case</text>
<use href="#spin" x="1720" y="270.700"/><rect x="1733" y="274.500" width="25.500" height="20.500" fill="#fff" stroke="#dcdcc8"/><text x="1737" y="289" style="font-size:12px">0</text>
<rect x="1759" y="273.300" width="489" height="29.400" fill="#dcdcb0"/><rect x="1759" y="273.300" width="489" height="4.400" fill="#b4b4a6"/><rect x="1762" y="298.300" width="486" height="4.400" fill="#f4f4ff"/>
<g><use href="#el0" x="1762" y="277.500"/><use href="#el0" x="1814.200" y="277.500"/><use href="#el0" x="1866.400" y="277.500"/><use href="#el0" x="1918.600" y="277.500"/><use href="#el0" x="1970.800" y="277.500"/><use href="#el0" x="2023" y="277.500"/><use href="#el0" x="2075.200" y="277.500"/><use href="#el0" x="2127.400" y="277.500"/><use href="#el0" x="2179.600" y="277.500"/><use href="#el0" x="2231.800" y="277.500"/></g>
<g><text x="1768" y="293" style="fill:#a0a0a8">0</text><text x="1820.200" y="293" style="fill:#a0a0a8">0</text><text x="1872.400" y="293" style="fill:#a0a0a8">0</text><text x="1924.600" y="293" style="fill:#a0a0a8">0</text><text x="1976.800" y="293" style="fill:#a0a0a8">0</text><text x="2029" y="293" style="fill:#a0a0a8">0</text><text x="2081.200" y="293" style="fill:#a0a0a8">0</text><text x="2133.400" y="293" style="fill:#a0a0a8">0</text><text x="2185.600" y="293" style="fill:#a0a0a8">0</text><text x="2237.800" y="293" style="fill:#a0a0a8">0</text></g>

<text x="1719" y="331.700" textLength="26" lengthAdjust="spacingAndGlyphs">stop</text>
<rect x="1719" y="335" width="41" height="18.300" fill="#a8a89c" stroke="#666"/><rect x="1721" y="337" width="34" height="14" fill="#c8c8c0"/><text x="1722" y="349" style="fill:#ff1020" textLength="31" lengthAdjust="spacingAndGlyphs">STOP</text>

<text x="1697.600" y="396" textLength="58" lengthAdjust="spacingAndGlyphs">Testarray</text>
<rect x="1754" y="401.700" width="494" height="280.600" fill="#000"/><path d="M1754 401.700H2248M1754 682.500H2248" stroke="#f0f0ff" stroke-width="1"/>
<path d="M1755 681.500H1761L1812 402.700H1818" fill="none" stroke="#e8e8e8" stroke-width="1.200"/>
<g style="font-size:12px">
<text class="c" x="1743" y="407" style="font-size:12px">9</text><text class="c" x="1743" y="438" style="font-size:12px">8</text><text class="c" x="1743" y="469" style="font-size:12px">7</text><text class="c" x="1743" y="500" style="font-size:12px">6</text><text class="c" x="1743" y="531" style="font-size:12px">5</text><text class="c" x="1743" y="562" style="font-size:12px">4</text><text class="c" x="1743" y="593" style="font-size:12px">3</text><text class="c" x="1743" y="624" style="font-size:12px">2</text><text class="c" x="1743" y="655" style="font-size:12px">1</text><text class="c" x="1743" y="686" style="font-size:12px">0</text>
</g>
<path d="M1749 402.500h4M1749 433.500h4M1749 464.500h4M1749 495.500h4M1749 526.500h4M1749 557.500h4M1749 588.500h4M1749 619.500h4M1749 650.500h4M1749 681.500h4M1755.500 683v5" stroke="#222"/>
<text class="c" x="0" y="0" transform="translate(1734 542.300) rotate(-90)" style="font-size:12px;fill:#302060" textLength="54" lengthAdjust="spacingAndGlyphs">Amplitude</text>
<text class="c" x="1755" y="700" style="font-size:12px;fill:#302060">0</text>
<text class="c" x="2043.500" y="717" style="font-size:12px;fill:#302060" textLength="26" lengthAdjust="spacingAndGlyphs">Time</text>

<text x="1766.500" y="756.700" textLength="32" lengthAdjust="spacingAndGlyphs">Array</text>
<use href="#spin" x="1727" y="758"/><rect x="1740" y="761.700" width="24" height="21.500" fill="#fff" stroke="#dcdcc8"/><text x="1744" y="776" style="font-size:12px">0</text>
<rect x="1766.500" y="761" width="481.500" height="29" fill="#dcdcb0"/><rect x="1768" y="764.500" width="480" height="22" fill="#a4a49c"/><rect x="1768" y="786.500" width="480" height="3.500" fill="#f4f4ff"/>
<g><use href="#el1" x="1770.700" y="765.500"/><use href="#el1" x="1822.900" y="765.500"/><use href="#el1" x="1875.100" y="765.500"/><use href="#el1" x="1927.300" y="765.500"/><use href="#el1" x="1979.500" y="765.500"/><use href="#el1" x="2031.700" y="765.500"/><use href="#el1" x="2083.900" y="765.500"/><use href="#el1" x="2136.100" y="765.500"/><use href="#el1" x="2188.300" y="765.500"/><use href="#el1" x="2240.500" y="765.500"/></g>
<g><text x="1774.500" y="780" style="font-size:12px">0</text><text x="1826.700" y="780" style="font-size:12px">1</text><text x="1878.900" y="780" style="font-size:12px">2</text><text x="1931.100" y="780" style="font-size:12px">3</text><text x="1983.300" y="780" style="font-size:12px">4</text><text x="2035.500" y="780" style="font-size:12px">5</text><text x="2087.700" y="780" style="font-size:12px">6</text><text x="2139.900" y="780" style="font-size:12px">7</text><text x="2192.100" y="780" style="font-size:12px">8</text><text x="2244.300" y="780" style="font-size:12px">9</text></g>
</svg>
</body></html>
